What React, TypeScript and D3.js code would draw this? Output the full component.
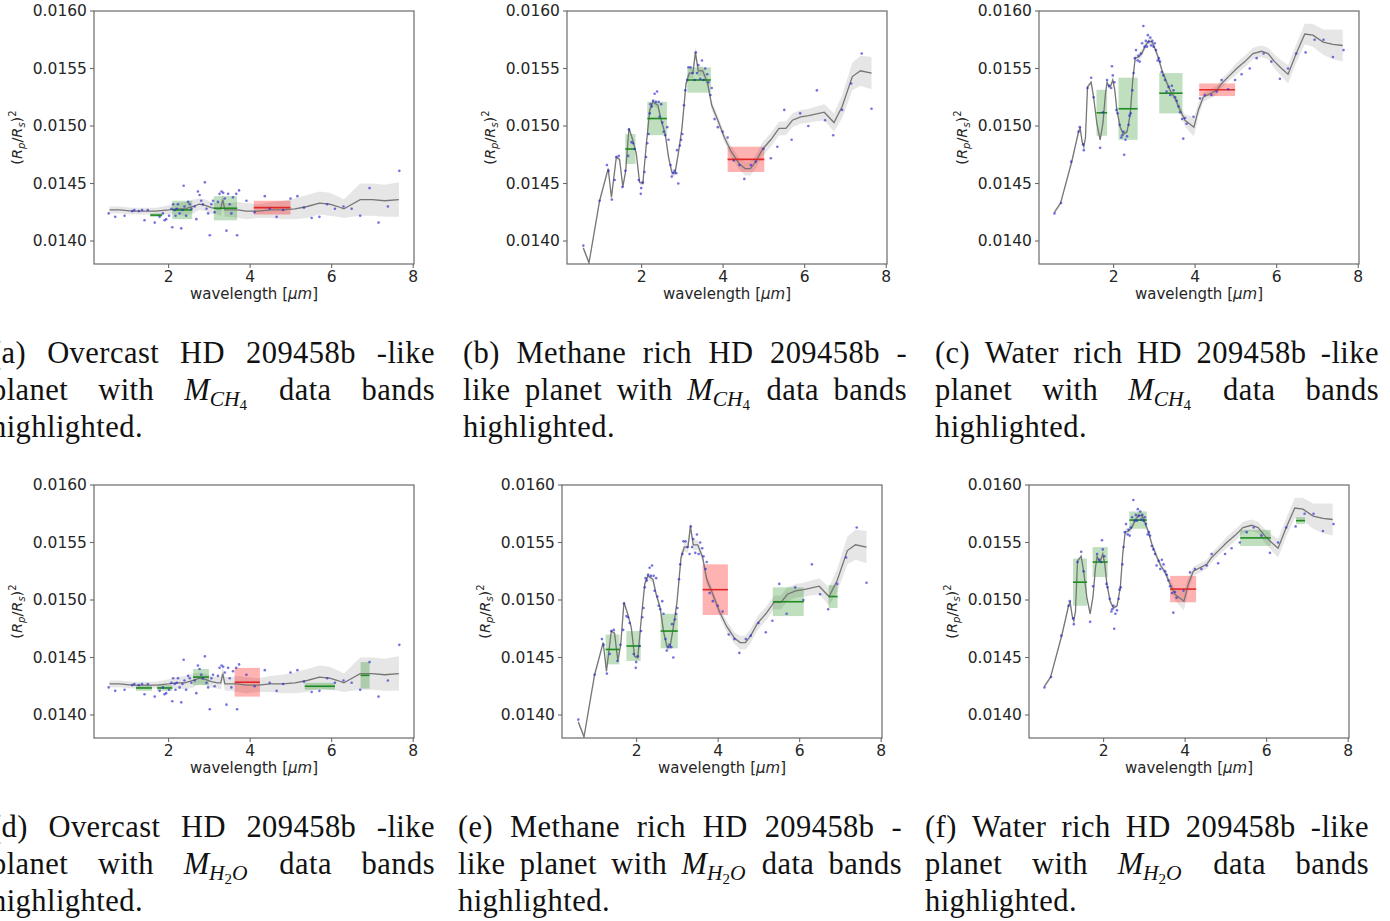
import React from 'react';
import * as d3 from 'd3';

// ---------- spectra: model mean [wavelength µm, (Rp/Rs)^2, 1σ] ----------
const overcastModel: [number, number, number][] = [
  [0.55, 0.01427, 0.00003], [0.8, 0.01427, 0.00003], [1.1, 0.01426, 0.00003], [1.4, 0.01426, 0.00003],
  [1.7, 0.01426, 0.00003], [2.0, 0.01427, 0.00004], [2.2, 0.01428, 0.00005], [2.4, 0.01428, 0.00006],
  [2.6, 0.0143, 0.00006], [2.75, 0.01432, 0.00005], [2.9, 0.01431, 0.00005], [3.05, 0.01429, 0.00005],
  [3.2, 0.01428, 0.00005], [3.28, 0.01428, 0.00006], [3.33, 0.01436, 0.00006], [3.38, 0.01427, 0.00006],
  [3.5, 0.01427, 0.00006], [3.7, 0.01427, 0.00007], [3.9, 0.01426, 0.00007], [4.2, 0.01426, 0.00006],
  [4.5, 0.01427, 0.00007], [4.8, 0.01427, 0.00008], [5.1, 0.01428, 0.00009], [5.4, 0.0143, 0.0001],
  [5.7, 0.01433, 0.0001], [5.95, 0.01432, 0.0001], [6.15, 0.0143, 0.00009], [6.3, 0.01428, 0.00008],
  [6.5, 0.01432, 0.00011], [6.7, 0.01436, 0.00014], [7.0, 0.01436, 0.00014], [7.3, 0.01435, 0.00014],
  [7.65, 0.01436, 0.00015],
];

const methaneModel: [number, number, number][] = [
  [0.57, 0.01394, 0.00002], [0.71, 0.01381, 0.00002], [0.97, 0.01435, 0.00002], [1.18, 0.01463, 0.00002],
  [1.26, 0.01438, 0.00002], [1.38, 0.01473, 0.00002], [1.46, 0.01471, 0.00002], [1.54, 0.01447, 0.00002],
  [1.61, 0.01461, 0.00002], [1.69, 0.01498, 0.00002], [1.79, 0.01487, 0.00002], [1.87, 0.01476, 0.00002],
  [1.95, 0.01451, 0.00002], [2.03, 0.0145, 0.00002], [2.11, 0.01482, 0.00002], [2.2, 0.01514, 0.00003],
  [2.28, 0.01521, 0.00003], [2.4, 0.01518, 0.00003], [2.48, 0.01505, 0.00003], [2.58, 0.01493, 0.00003],
  [2.66, 0.01473, 0.00003], [2.74, 0.0146, 0.00003], [2.82, 0.01459, 0.00003], [2.9, 0.01476, 0.00003],
  [2.99, 0.01498, 0.00003], [3.09, 0.01537, 0.00004], [3.17, 0.01546, 0.00004], [3.26, 0.01546, 0.00005],
  [3.32, 0.01564, 0.00005], [3.39, 0.01548, 0.00005], [3.5, 0.01548, 0.00004], [3.62, 0.01537, 0.00004],
  [3.72, 0.01518, 0.00004], [3.87, 0.01505, 0.00004], [4.03, 0.0149, 0.00004], [4.21, 0.01477, 0.00005],
  [4.4, 0.01467, 0.00005], [4.54, 0.01463, 0.00006], [4.67, 0.01463, 0.00006], [4.8, 0.01469, 0.00006],
  [4.97, 0.0148, 0.00006], [5.17, 0.01488, 0.00006], [5.37, 0.01498, 0.00006], [5.54, 0.01498, 0.00006],
  [5.7, 0.01505, 0.00006], [5.9, 0.01508, 0.00006], [6.1, 0.01509, 0.00006], [6.48, 0.01512, 0.00007],
  [6.72, 0.01503, 0.00008], [6.92, 0.01517, 0.0001], [7.17, 0.01543, 0.00012], [7.37, 0.01548, 0.00013],
  [7.64, 0.01546, 0.00014],
];

const waterModel: [number, number, number][] = [
  [0.55, 0.01425, 0.00002], [0.7, 0.01433, 0.00002], [0.98, 0.0147, 0.00002], [1.14, 0.01495, 0.00002],
  [1.18, 0.01498, 0.00002], [1.23, 0.01486, 0.00002], [1.27, 0.01482, 0.00002], [1.31, 0.0149, 0.00002],
  [1.36, 0.01534, 0.00002], [1.45, 0.01538, 0.00002], [1.51, 0.01525, 0.00002], [1.59, 0.01502, 0.00002],
  [1.67, 0.01488, 0.00002], [1.74, 0.01503, 0.00002], [1.8, 0.01528, 0.00002], [1.84, 0.01538, 0.00002],
  [1.89, 0.01534, 0.00002], [1.93, 0.01535, 0.00002], [1.98, 0.0154, 0.00002], [2.03, 0.01531, 0.00002],
  [2.08, 0.01514, 0.00002], [2.16, 0.01499, 0.00002], [2.24, 0.01493, 0.00002], [2.33, 0.01495, 0.00002],
  [2.41, 0.01511, 0.00002], [2.47, 0.0154, 0.00003], [2.53, 0.01559, 0.00003], [2.61, 0.0156, 0.00003],
  [2.69, 0.01563, 0.00003], [2.77, 0.01569, 0.00003], [2.86, 0.01574, 0.00003], [2.94, 0.01573, 0.00003],
  [3.02, 0.01567, 0.00003], [3.1, 0.01559, 0.00003], [3.18, 0.01549, 0.00003], [3.3, 0.01538, 0.00003],
  [3.4, 0.0153, 0.00003], [3.51, 0.01524, 0.00003], [3.63, 0.01514, 0.00004], [3.75, 0.01505, 0.00005],
  [3.86, 0.01502, 0.00007], [3.97, 0.01499, 0.00008], [4.08, 0.01514, 0.00006], [4.2, 0.01525, 0.00004],
  [4.36, 0.01528, 0.00004], [4.53, 0.01531, 0.00004], [4.65, 0.01537, 0.00004], [4.85, 0.01544, 0.00004],
  [5.02, 0.0155, 0.00005], [5.22, 0.01556, 0.00005], [5.42, 0.01563, 0.00005], [5.63, 0.01565, 0.00005],
  [5.79, 0.01563, 0.00005], [5.95, 0.01556, 0.00006], [6.12, 0.0155, 0.00007], [6.28, 0.01545, 0.00008],
  [6.48, 0.01563, 0.00008], [6.69, 0.0158, 0.00009], [6.89, 0.01579, 0.0001], [7.14, 0.01573, 0.00011],
  [7.38, 0.01571, 0.00013], [7.62, 0.0157, 0.00014],
];

// ---------- simulated observations [wavelength µm, (Rp/Rs)^2] ----------
const overcastObs: [number, number][] = [
  [0.53, 0.01424], [0.69, 0.01421], [0.92, 0.01422], [1.11, 0.01426], [1.16, 0.01427], [1.27, 0.01426],
  [1.35, 0.01427], [1.41, 0.01418], [1.49, 0.01427], [1.66, 0.01416], [1.78, 0.01421], [1.86, 0.01424],
  [1.9, 0.01418], [1.94, 0.01419], [2.01, 0.01422], [2.07, 0.01428], [2.09, 0.01412], [2.11, 0.01432],
  [2.15, 0.01427], [2.17, 0.01422], [2.2, 0.01428], [2.23, 0.01432], [2.27, 0.01424], [2.31, 0.01411],
  [2.34, 0.01427], [2.37, 0.01448], [2.39, 0.0143], [2.43, 0.01422], [2.48, 0.01434], [2.52, 0.01432],
  [2.56, 0.01428], [2.64, 0.0143], [2.68, 0.01419], [2.72, 0.01443], [2.76, 0.0144], [2.8, 0.01435],
  [2.84, 0.01432], [2.89, 0.01451], [2.93, 0.01428], [2.97, 0.01424], [3.01, 0.01405], [3.05, 0.01432],
  [3.09, 0.01435], [3.13, 0.01425], [3.21, 0.01434], [3.25, 0.01441], [3.3, 0.01443], [3.34, 0.01442],
  [3.38, 0.01437], [3.42, 0.01409], [3.46, 0.01441], [3.5, 0.01432], [3.54, 0.01424], [3.58, 0.01438],
  [3.66, 0.01441], [3.68, 0.01405], [3.73, 0.01444], [3.91, 0.01435], [4.11, 0.01425], [4.36, 0.01439],
  [4.48, 0.01428], [4.65, 0.01421], [4.81, 0.01427], [4.99, 0.01437], [5.16, 0.01439], [5.32, 0.01429],
  [5.51, 0.0142], [5.7, 0.01421], [5.89, 0.01432], [6.08, 0.01428], [6.29, 0.0143], [6.49, 0.01428],
  [6.7, 0.01422], [6.93, 0.01446], [7.15, 0.01416], [7.38, 0.0143], [7.66, 0.01461],
];

const methaneObs: [number, number][] = [
  [0.57, 0.01396], [0.97, 0.01435], [1.15, 0.01466], [1.19, 0.01461], [1.27, 0.01436], [1.34, 0.01453],
  [1.38, 0.01473], [1.44, 0.01474], [1.53, 0.01447], [1.6, 0.01461], [1.67, 0.01474], [1.69, 0.01497],
  [1.75, 0.01486], [1.79, 0.01485], [1.83, 0.0148], [1.93, 0.01453], [1.98, 0.01441], [1.99, 0.01446],
  [2.03, 0.01451], [2.07, 0.0146], [2.11, 0.01473], [2.14, 0.01485], [2.17, 0.01493], [2.2, 0.01511],
  [2.22, 0.01519], [2.25, 0.01517], [2.28, 0.01522], [2.32, 0.01528], [2.35, 0.01521], [2.38, 0.0153],
  [2.42, 0.01521], [2.44, 0.01508], [2.48, 0.01519], [2.51, 0.01503], [2.54, 0.01495], [2.58, 0.01492],
  [2.63, 0.01499], [2.66, 0.01488], [2.71, 0.01466], [2.74, 0.01456], [2.77, 0.01459], [2.81, 0.01461],
  [2.85, 0.01459], [2.87, 0.01479], [2.9, 0.0145], [2.94, 0.01483], [2.97, 0.01488], [3.0, 0.01493],
  [3.04, 0.01518], [3.07, 0.01531], [3.12, 0.0154], [3.15, 0.01551], [3.2, 0.01551], [3.25, 0.01546],
  [3.3, 0.0154], [3.33, 0.01564], [3.36, 0.01546], [3.39, 0.01553], [3.44, 0.01541], [3.48, 0.01557],
  [3.52, 0.0154], [3.56, 0.0155], [3.61, 0.01545], [3.64, 0.01538], [3.69, 0.01527], [3.72, 0.01533],
  [3.79, 0.01506], [3.87, 0.01499], [3.99, 0.01495], [4.11, 0.0149], [4.26, 0.0147], [4.4, 0.01466],
  [4.52, 0.01454], [4.68, 0.01466], [4.8, 0.01469], [4.99, 0.0148], [5.17, 0.01472], [5.33, 0.01482],
  [5.5, 0.01514], [5.68, 0.01488], [5.89, 0.01511], [6.09, 0.015], [6.3, 0.01531], [6.5, 0.01505],
  [6.7, 0.01492], [6.92, 0.01514], [7.14, 0.01537], [7.4, 0.01563], [7.64, 0.01515],
];

const waterObs: [number, number][] = [
  [0.55, 0.01424], [0.71, 0.01433], [0.96, 0.01469], [1.14, 0.01495], [1.17, 0.01499], [1.25, 0.01484],
  [1.27, 0.01479], [1.36, 0.01533], [1.45, 0.01542], [1.51, 0.01525], [1.67, 0.01481], [1.74, 0.01512],
  [1.84, 0.0154], [1.89, 0.01535], [1.94, 0.01533], [1.96, 0.01552], [1.98, 0.01544], [2.02, 0.01538],
  [2.07, 0.01514], [2.1, 0.01511], [2.15, 0.01501], [2.19, 0.0149], [2.21, 0.01492], [2.24, 0.01495],
  [2.26, 0.01475], [2.29, 0.01488], [2.33, 0.01491], [2.37, 0.01501], [2.39, 0.01509], [2.42, 0.01511],
  [2.46, 0.01531], [2.49, 0.01546], [2.52, 0.01559], [2.55, 0.01566], [2.59, 0.01557], [2.61, 0.01561],
  [2.64, 0.01556], [2.67, 0.01563], [2.7, 0.01572], [2.73, 0.01587], [2.76, 0.01569], [2.79, 0.01574],
  [2.82, 0.01569], [2.84, 0.01579], [2.86, 0.01573], [2.9, 0.01577], [2.92, 0.0157], [2.95, 0.01574],
  [2.98, 0.01569], [3.01, 0.01572], [3.04, 0.01566], [3.08, 0.01557], [3.11, 0.01559], [3.14, 0.01556],
  [3.18, 0.01547], [3.22, 0.01544], [3.26, 0.0154], [3.3, 0.0153], [3.35, 0.01534], [3.39, 0.01527],
  [3.43, 0.01535], [3.47, 0.01531], [3.51, 0.01525], [3.55, 0.01522], [3.59, 0.01517], [3.63, 0.01512],
  [3.68, 0.01506], [3.71, 0.01489], [3.75, 0.01507], [3.79, 0.01502], [3.96, 0.01508], [4.12, 0.01524],
  [4.24, 0.01527], [4.4, 0.01527], [4.53, 0.0153], [4.65, 0.0154], [4.81, 0.01532], [4.98, 0.0154],
  [5.14, 0.01545], [5.34, 0.0155], [5.51, 0.01559], [5.68, 0.01563], [5.87, 0.01556], [6.08, 0.01541],
  [6.28, 0.0155], [6.48, 0.01563], [6.71, 0.01564], [6.93, 0.01575], [7.15, 0.01575], [7.38, 0.0156],
  [7.64, 0.01566],
];

// ---------- data bands [from µm, to µm, band mean, band σ, agrees with molecule?] ----------
type Band = [number, number, number, number, boolean];
const ch4BandsOvercast: Band[] = [
  [1.55, 1.84, 0.014225, 0.000015, true], [2.09, 2.58, 0.01427, 0.00008, true],
  [3.11, 3.68, 0.014285, 0.000105, true], [4.09, 4.99, 0.01429, 0.00006, false],
];
const ch4BandsMethane: Band[] = [
  [1.6, 1.85, 0.0148, 0.00013, true], [2.14, 2.62, 0.015065, 0.000145, true],
  [3.12, 3.7, 0.0154, 0.00011, true], [4.11, 5.01, 0.01471, 0.00011, false],
];
const ch4BandsWater: Band[] = [
  [1.58, 1.84, 0.015115, 0.0002, true], [2.12, 2.59, 0.01515, 0.00027, true],
  [3.12, 3.69, 0.015285, 0.000175, true], [4.1, 4.98, 0.015315, 0.000055, false],
];
const h2oBandsOvercast: Band[] = [
  [1.2, 1.59, 0.014235, 0.000025, true], [1.72, 2.09, 0.014235, 0.000025, true],
  [2.6, 2.99, 0.01433, 0.00007, true], [3.62, 4.24, 0.014285, 0.000125, false],
  [5.34, 6.08, 0.01425, 0.00003, true], [6.71, 6.93, 0.014345, 0.000115, true],
];
const h2oBandsMethane: Band[] = [
  [1.24, 1.58, 0.01457, 0.00013, true], [1.75, 2.1, 0.0146, 0.00013, true],
  [2.59, 3.01, 0.01473, 0.00015, true], [3.62, 4.24, 0.01509, 0.00022, false],
  [5.34, 6.1, 0.014985, 0.000125, true], [6.71, 6.93, 0.01503, 0.0001, true],
];
const h2oBandsWater: Band[] = [
  [1.25, 1.59, 0.015155, 0.000205, true], [1.73, 2.1, 0.01533, 0.00013, true],
  [2.63, 3.06, 0.015695, 0.000075, true], [3.63, 4.27, 0.015095, 0.000115, false],
  [5.35, 6.1, 0.01554, 0.00007, true], [6.72, 6.94, 0.01569, 0.00003, true],
];

// ---------- axes ----------
const xDomain: [number, number] = [0.17, 8.02];
const yDomain: [number, number] = [0.0138, 0.016];
const xTicks = [2, 4, 6, 8];
const yTicks = [0.014, 0.0145, 0.015, 0.0155, 0.016];

// ---------- captions ----------
const M_CH4 = '$CH4';
const M_H2O = '$H2O';
const captionA = [['(a)', 'Overcast', 'HD', '209458b', '-like'], ['planet', 'with', M_CH4, 'data', 'bands'], ['highlighted.']];
const captionB = [['(b)', 'Methane', 'rich', 'HD', '209458b', '-'], ['like', 'planet', 'with', M_CH4, 'data', 'bands'], ['highlighted.']];
const captionC = [['(c)', 'Water', 'rich', 'HD', '209458b', '-like'], ['planet', 'with', M_CH4, 'data', 'bands'], ['highlighted.']];
const captionD = [['(d)', 'Overcast', 'HD', '209458b', '-like'], ['planet', 'with', M_H2O, 'data', 'bands'], ['highlighted.']];
const captionE = [['(e)', 'Methane', 'rich', 'HD', '209458b', '-'], ['like', 'planet', 'with', M_H2O, 'data', 'bands'], ['highlighted.']];
const captionF = [['(f)', 'Water', 'rich', 'HD', '209458b', '-like'], ['planet', 'with', M_H2O, 'data', 'bands'], ['highlighted.']];

// ---------- styling ----------
const SANS = "'DejaVu Sans', sans-serif";
const SERIF = "'Liberation Serif', 'Times New Roman', serif";
const CAP_SIZE = 30.5;
const CAP_TRACK = 0.45;
const PLOT_W = 320;
const PLOT_H = 253;
const TICK_FONT = 15.5;

let measureCtx: CanvasRenderingContext2D | null = null;
function textWidth(text: string, size: number, italic: boolean): number {
  if (!measureCtx) measureCtx = document.createElement('canvas').getContext('2d');
  if (!measureCtx) return text.length * size * 0.5;
  measureCtx.font = `${italic ? 'italic ' : ''}${size}px ${SERIF}`;
  return measureCtx.measureText(text).width;
}

type Part = { t: string; size: number; italic: boolean; dy: number };
function mathParts(tok: string): Part[] {
  if (tok === M_CH4) {
    return [
      { t: 'M', size: CAP_SIZE, italic: true, dy: 0 },
      { t: 'CH', size: 21.5, italic: true, dy: 6 },
      { t: '4', size: 15, italic: false, dy: 4 },
    ];
  }
  return [
    { t: 'M', size: CAP_SIZE, italic: true, dy: 0 },
    { t: 'H', size: 21.5, italic: true, dy: 6 },
    { t: '2', size: 15, italic: false, dy: 4 },
    { t: 'O', size: 21.5, italic: true, dy: -4 },
  ];
}
function tokenWidth(tok: string): number {
  if (tok.startsWith('$')) return d3.sum(mathParts(tok), (p) => textWidth(p.t, p.size, p.italic)) + 2;
  return textWidth(tok, CAP_SIZE, false) + CAP_TRACK * tok.length;
}

function Caption({ lines, x0, y0, width }: { lines: string[][]; x0: number; y0: number; width: number }) {
  const lineGap = 37;
  return (
    <g fontFamily={SERIF} fontSize={CAP_SIZE} fill="#111">
      {lines.map((words, li) => {
        const widths = words.map(tokenWidth);
        const last = li === lines.length - 1;
        const gap = last || words.length < 2
          ? textWidth(' ', CAP_SIZE, false)
          : (width - d3.sum(widths)) / (words.length - 1);
        let cx = x0;
        const y = y0 + li * lineGap;
        return words.map((w, wi) => {
          const xPos = cx;
          cx += widths[wi] + gap;
          if (w.startsWith('$')) {
            return (
              <text key={`${li}-${wi}`} x={xPos} y={y}>
                {mathParts(w).map((p, pi) => (
                  <tspan key={pi} dy={p.dy} fontSize={p.size} fontStyle={p.italic ? 'italic' : 'normal'}>{p.t}</tspan>
                ))}
              </text>
            );
          }
          return <text key={`${li}-${wi}`} x={xPos} y={y} letterSpacing={CAP_TRACK}>{w}</text>;
        });
      })}
    </g>
  );
}

function Panel({ id, left, top, model, obs, bands }: {
  id: string; left: number; top: number;
  model: [number, number, number][]; obs: [number, number][]; bands: Band[];
}) {
  const x = d3.scaleLinear().domain(xDomain).range([left, left + PLOT_W]);
  const y = d3.scaleLinear().domain(yDomain).range([top + PLOT_H, top]);
  const area = d3.area<[number, number, number]>()
    .x((d) => x(d[0]))
    .y0((d) => y(d[1] - d[2]))
    .y1((d) => y(d[1] + d[2]));
  const line = d3.line<[number, number, number]>().x((d) => x(d[0])).y((d) => y(d[1]));
  const bottom = top + PLOT_H;
  const cx = left + PLOT_W / 2;
  const cy = top + PLOT_H / 2;
  const fmt = d3.format('.4f');
  return (
    <g>
      <defs>
        <clipPath id={`clip-${id}`}>
          <rect x={left} y={top} width={PLOT_W} height={PLOT_H} />
        </clipPath>
      </defs>
      <g clipPath={`url(#clip-${id})`}>
        <path d={area(model) ?? ''} fill="#808080" fillOpacity={0.2} />
        {bands.map((b, i) => (
          <rect key={`r${i}`} x={x(b[0])} width={x(b[1]) - x(b[0])}
            y={y(b[2] + b[3])} height={y(b[2] - b[3]) - y(b[2] + b[3])}
            fill={b[4] ? '#008000' : '#ff0000'} fillOpacity={b[4] ? 0.25 : 0.3} />
        ))}
        <path d={line(model) ?? ''} fill="none" stroke="#767676" strokeWidth={1.3} />
        {bands.map((b, i) => (
          <line key={`m${i}`} x1={x(b[0])} x2={x(b[1])} y1={y(b[2])} y2={y(b[2])}
            stroke={b[4] ? '#1f8a1f' : '#e02828'} strokeWidth={1.6} />
        ))}
        {obs.map((d, i) => (
          <circle key={`o${i}`} cx={x(d[0])} cy={y(d[1])} r={1.3} fill="#2828d0" fillOpacity={0.65} />
        ))}
      </g>
      <rect x={left} y={top} width={PLOT_W} height={PLOT_H} fill="none" stroke="#6a6a6a" strokeWidth={1.2} />
      {xTicks.map((t) => (
        <g key={`xt${t}`}>
          <line x1={x(t)} x2={x(t)} y1={bottom} y2={bottom + 4} stroke="#6a6a6a" strokeWidth={1.1} />
          <text x={x(t)} y={bottom + 17.5} textAnchor="middle" fontFamily={SANS} fontSize={TICK_FONT} fill="#262626">{t}</text>
        </g>
      ))}
      {yTicks.map((t) => (
        <g key={`yt${t}`}>
          <line x1={left - 4} x2={left} y1={y(t)} y2={y(t)} stroke="#6a6a6a" strokeWidth={1.1} />
          <text x={left - 7} y={y(t)} dy="0.35em" textAnchor="end" fontFamily={SANS} fontSize={TICK_FONT} fill="#262626">{fmt(t)}</text>
        </g>
      ))}
      <text x={cx} y={bottom + 34.5} textAnchor="middle" fontFamily={SANS} fontSize={15} fill="#262626">
        wavelength [<tspan fontStyle="italic">μm</tspan>]
      </text>
      <text transform={`translate(${left - 72.5},${cy}) rotate(-90)`} textAnchor="middle" fontFamily={SANS} fontSize={14.5} fill="#262626">
        (<tspan fontStyle="italic">R</tspan>
        <tspan fontStyle="italic" fontSize={10} dy={3}>p</tspan>
        <tspan dy={-3}>/</tspan>
        <tspan fontStyle="italic">R</tspan>
        <tspan fontStyle="italic" fontSize={10} dy={3}>s</tspan>
        <tspan dy={-3}>)</tspan>
        <tspan fontSize={10} dy={-6}>2</tspan>
      </text>
    </g>
  );
}

export default function App() {
  const topRow = 11;
  const bottomRow = 485;
  const capW = 444;
  return (
    <svg width={1390} height={921} viewBox="0 0 1390 921"
      style={{ position: 'absolute', left: 0, top: 0, background: '#fff' }}>
      <rect x={0} y={0} width={1390} height={921} fill="#fff" />
      <Panel id="a" left={94} top={topRow} model={overcastModel} obs={overcastObs} bands={ch4BandsOvercast} />
      <Panel id="b" left={567} top={topRow} model={methaneModel} obs={methaneObs} bands={ch4BandsMethane} />
      <Panel id="c" left={1039} top={topRow} model={waterModel} obs={waterObs} bands={ch4BandsWater} />
      <Panel id="d" left={94} top={bottomRow} model={overcastModel} obs={overcastObs} bands={h2oBandsOvercast} />
      <Panel id="e" left={562} top={bottomRow} model={methaneModel} obs={methaneObs} bands={h2oBandsMethane} />
      <Panel id="f" left={1029} top={bottomRow} model={waterModel} obs={waterObs} bands={h2oBandsWater} />
      <Caption lines={captionA} x0={-9} y0={363} width={capW} />
      <Caption lines={captionB} x0={463} y0={363} width={capW} />
      <Caption lines={captionC} x0={935} y0={363} width={capW} />
      <Caption lines={captionD} x0={-9} y0={837} width={capW} />
      <Caption lines={captionE} x0={458} y0={837} width={capW} />
      <Caption lines={captionF} x0={925} y0={837} width={capW} />
    </svg>
  );
}
